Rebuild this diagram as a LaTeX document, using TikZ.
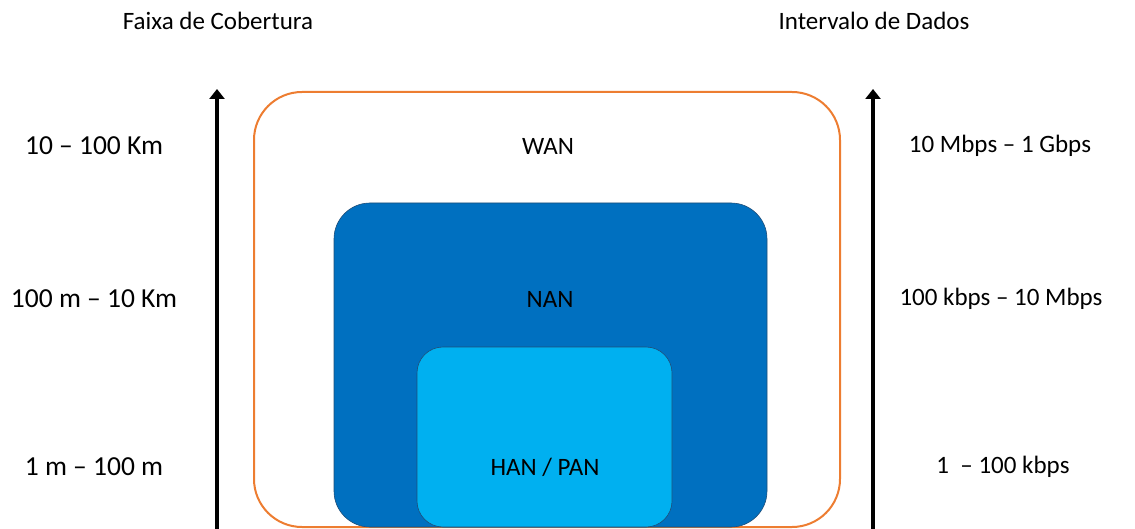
\documentclass[tikz,border=0pt]{standalone}
\usepackage{fontspec}
\setmainfont{Carlito}
\usetikzlibrary{arrows.meta}
\definecolor{wanorange}{HTML}{ED7D31}
\definecolor{nanblue}{HTML}{0070C0}
\definecolor{hanblue}{HTML}{00B0F0}
\definecolor{edgeblue}{HTML}{1F4E79}
\tikzset{
  lbl/.style={font=\fontsize{25}{28}\selectfont, text=black, inner sep=0pt, anchor=center},
  biglbl/.style={lbl, font=\fontsize{27.5}{30}\selectfont},
  axis/.style={line width=3.2pt, -{Triangle[width=15pt,length=10pt]}}
}
\begin{document}
\begin{tikzpicture}[x=1pt,y=-1pt]
\useasboundingbox (0,0) rectangle (1135,529);
% coverage areas
\draw[wanorange, line width=2pt, rounded corners=48pt] (254,92) rectangle (840,527);
\filldraw[fill=nanblue, draw=edgeblue, line width=0.6pt, rounded corners=36pt] (334,203) rectangle (767,527);
\filldraw[fill=hanblue, draw=edgeblue, line width=0.6pt, rounded corners=26pt] (417,347) rectangle (672,527);
% axes
\coordinate (lb) at (217,529);
\coordinate (lt) at (217,89);
\coordinate (rb) at (873,529);
\coordinate (rt) at (873,89);
\draw[axis] (lb) -- (lt);
\draw[axis] (rb) -- (rt);
% headings
\node[lbl] (h1) at (218,21) {Faixa de Cobertura};
\node[lbl] (h2) at (874,21) {Intervalo de Dados};
% ranges
\node[biglbl] (r1) at (94,146) {10 – 100 Km};
\node[biglbl] (r2) at (94,299) {100 m – 10 Km};
\node[biglbl] (r3) at (94,467) {1 m – 100 m};
% network names
\node[lbl] (n1) at (548,146) {WAN};
\node[lbl] (n2) at (550,299) {NAN};
\node[lbl] (n3) at (545,467) {HAN / PAN};
% data rates
\node[lbl] (d1) at (1000,146) {10 Mbps – 1 Gbps};
\node[lbl] (d2) at (1001,299) {100 kbps – 10 Mbps};
\node[lbl] (d3) at (1003,467) {1 \ – 100 kbps};
\end{tikzpicture}
\end{document}
